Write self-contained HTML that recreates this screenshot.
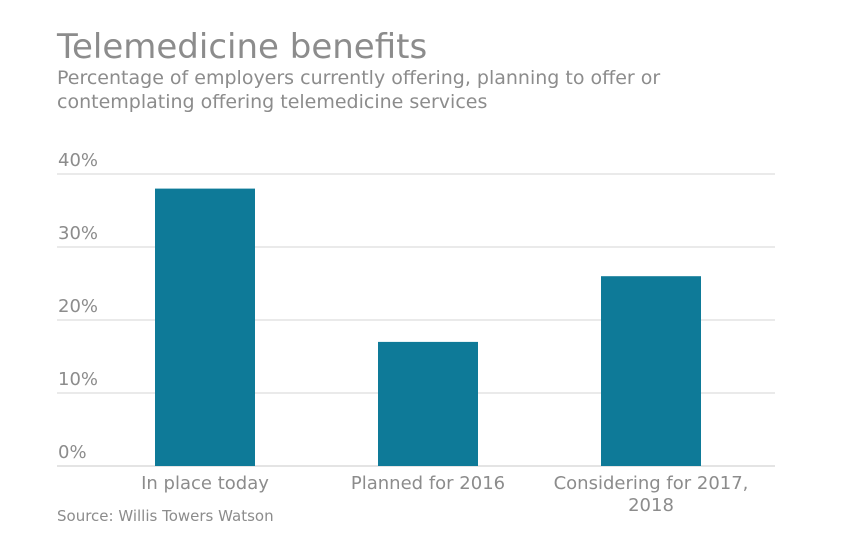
<!DOCTYPE html>
<html><head><meta charset="utf-8"><style>
body{margin:0;background:#fff;}
svg{display:block;font-family:"DejaVu Sans","Liberation Sans",sans-serif;}
</style></head><body>
<svg width="844" height="550">
<text x="57" y="58" font-size="34" fill="#8c8c8c">Telemedicine benefits</text>
<text x="57" y="84" font-size="19" fill="#8c8c8c">Percentage of employers currently offering, planning to offer or</text>
<text x="57" y="108" font-size="19" fill="#8c8c8c">contemplating offering telemedicine services</text>
<g id="grid"></g><g id="bars"></g><g id="xlabels"></g>
<text x="57" y="521" font-size="15" fill="#8c8c8c">Source: Willis Towers Watson</text>
</svg>
<script>
const categories=[["In place today"],["Planned for 2016"],["Considering for 2017,","2018"]];
const values=[38,17,26];
const ticks=[0,10,20,30,40];
const tickLabels=["0%","10%","20%","30%","40%"];
const NS="http://www.w3.org/2000/svg";
const y=v=>466-v*7.3;
const x=i=>94+i*223;
function mk(t,a,p){const e=document.createElementNS(NS,t);for(const k in a)e.setAttribute(k,a[k]);p.appendChild(e);return e;}
const g=document.getElementById('grid');
ticks.forEach((t,i)=>{
 const l=mk('line',{x1:57,x2:775,y1:y(t),y2:y(t),stroke:i==0?'#c8c8c8':'#d4d4d4','stroke-width':1},g);
 
 
 const tx=mk('text',{x:58,y:y(t)-8,'font-size':18,fill:'#8c8c8c'},g);
 tx.textContent=tickLabels[i];
 
 
});
const b=document.getElementById('bars');
values.forEach((v,i)=>{
 const r=mk('rect',{x:x(i)+61,y:y(v),width:100,height:y(0)-y(v),fill:'#0e7a98'},b);
 
 
});
const xl=document.getElementById('xlabels');
categories.forEach((c,i)=>{
 c.forEach((line,j)=>{
  const t=mk('text',{x:x(i)+111,y:489+j*22,'font-size':18,fill:'#8c8c8c','text-anchor':'middle'},xl);
  t.textContent=line;
  
  
 });
});
</script>
</body></html>
